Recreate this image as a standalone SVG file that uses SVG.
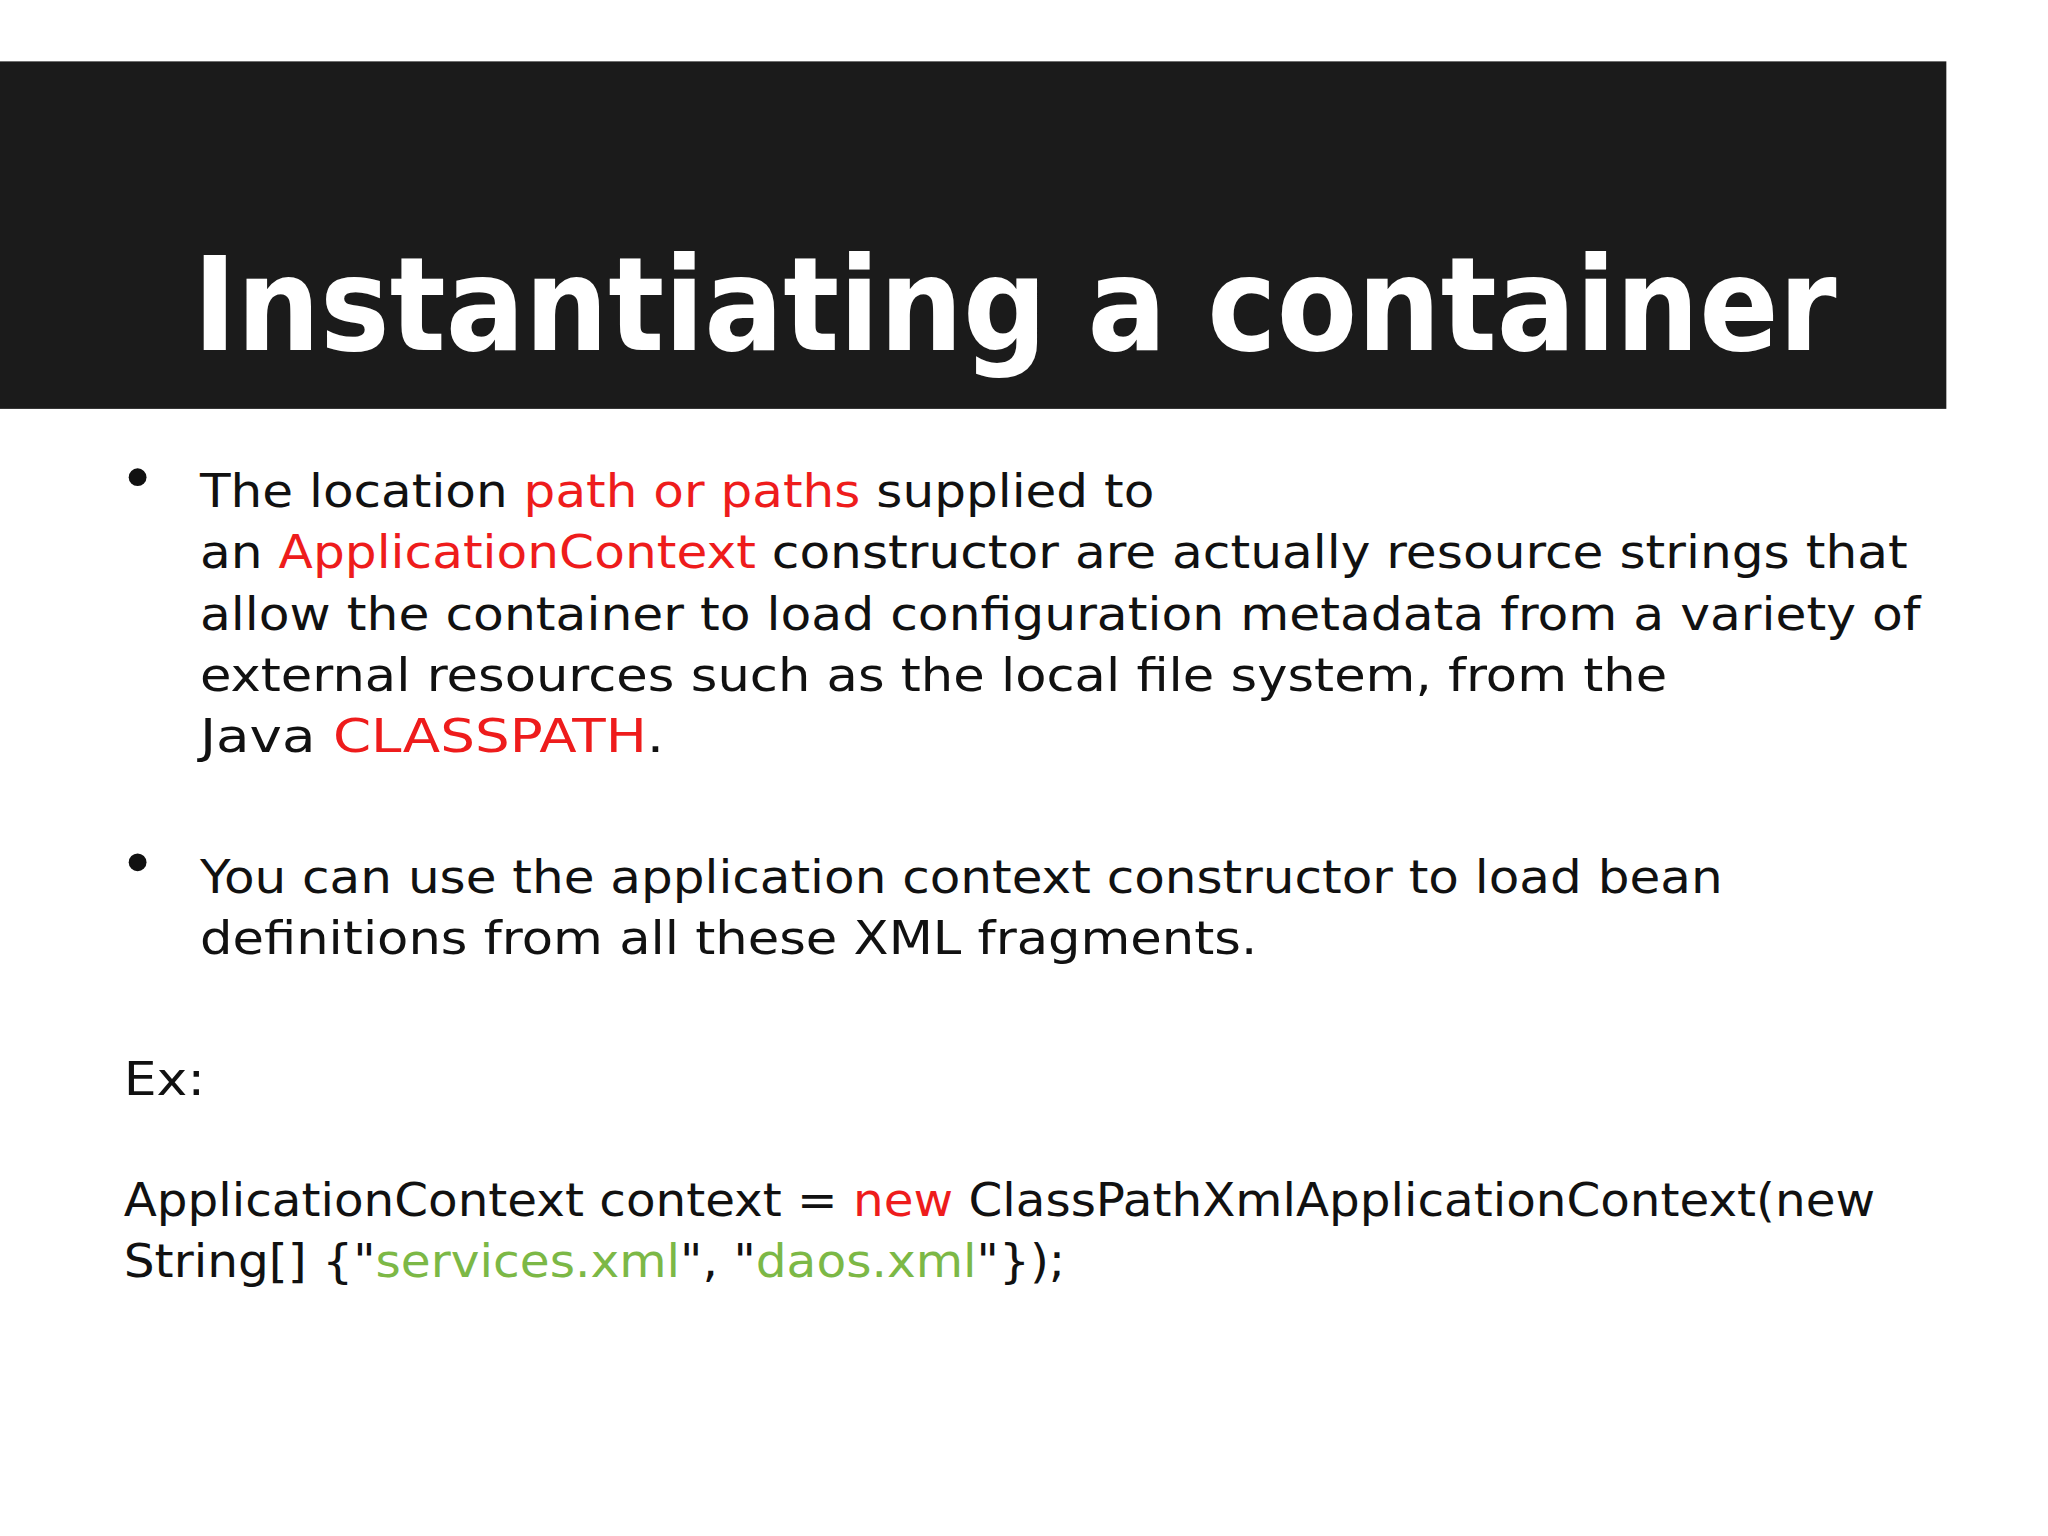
<svg xmlns="http://www.w3.org/2000/svg" width="2048" height="1536" viewBox="0 0 2048 1536">
<style>
.t{font-family:"DejaVu Sans","Liberation Sans",sans-serif;font-size:46px;fill:#111}
.r{fill:#ee1c1c}.g{fill:#7cb846}
</style>
<rect width="2048" height="1536" fill="#fff"/>
<g transform="scale(0.99)">
<rect x="0" y="62" width="1966" height="351" fill="#1b1b1b"/>
<text x="195" y="354" textLength="1660" lengthAdjust="spacingAndGlyphs" style="font-family:'DejaVu Sans',sans-serif;font-size:132px;font-weight:bold;fill:#fff">Instantiating a container</text>
<circle cx="139" cy="482" r="9" fill="#111"/>
<circle cx="139" cy="871" r="9" fill="#111"/>
<text class="t" x="202" y="512" textLength="964" lengthAdjust="spacingAndGlyphs">The location <tspan class="r">path or paths</tspan> supplied to</text>
<text class="t" x="202" y="574" textLength="1725" lengthAdjust="spacingAndGlyphs">an <tspan class="r">ApplicationContext</tspan> constructor are actually resource strings that</text>
<text class="t" x="202" y="636" textLength="1738" lengthAdjust="spacingAndGlyphs">allow the container to load configuration metadata from a variety of</text>
<text class="t" x="202" y="698" textLength="1482" lengthAdjust="spacingAndGlyphs">external resources such as the local file system, from the</text>
<text class="t" x="202" y="760" textLength="469" lengthAdjust="spacingAndGlyphs">Java <tspan class="r">CLASSPATH</tspan>.</text>
<text class="t" x="202" y="902" textLength="1538" lengthAdjust="spacingAndGlyphs">You can use the application context constructor to load bean</text>
<text class="t" x="202" y="964" textLength="1068" lengthAdjust="spacingAndGlyphs">definitions from all these XML fragments.</text>
<text class="t" x="125" y="1106" textLength="82" lengthAdjust="spacingAndGlyphs">Ex:</text>
<text class="t" x="125" y="1228" textLength="1769" lengthAdjust="spacingAndGlyphs">ApplicationContext context = <tspan class="r">new</tspan> ClassPathXmlApplicationContext(new</text>
<text class="t" x="125" y="1290" textLength="951" lengthAdjust="spacingAndGlyphs">String[] {"<tspan class="g">services.xml</tspan>", "<tspan class="g">daos.xml</tspan>"});</text>
</g>
</svg>
